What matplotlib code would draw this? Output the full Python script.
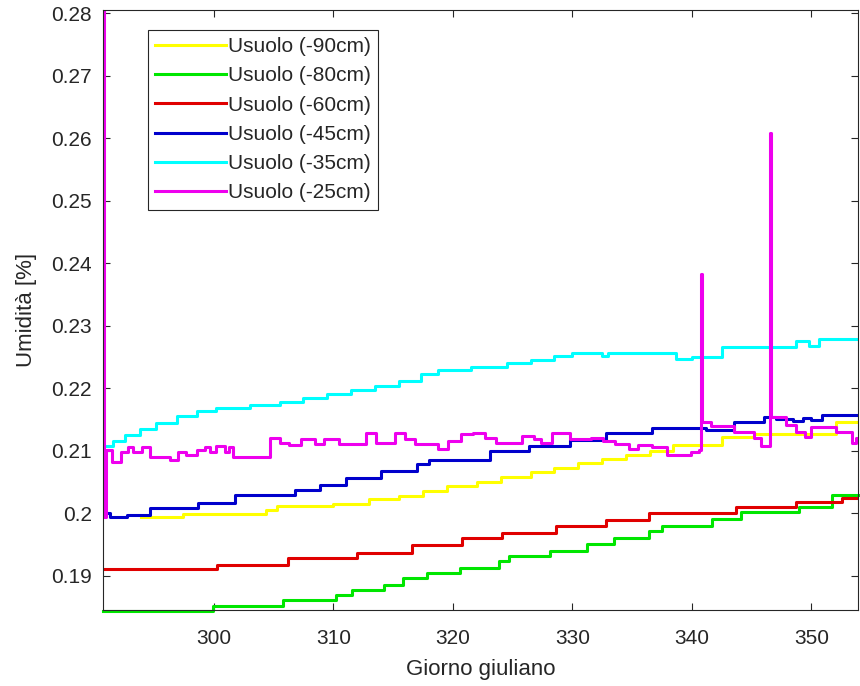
import matplotlib
matplotlib.use('Agg')
import matplotlib.pyplot as plt
from matplotlib.ticker import FuncFormatter

plt.rcParams['font.family'] = ['Liberation Sans', 'DejaVu Sans']

#--series (giorno giuliano, umidita) - step breakpoints
x90 = [293.9, 297.4, 304.4, 305.3, 310.0, 313.0, 315.5, 317.5, 319.5, 322.0, 324.0,
       326.5, 328.5, 330.5, 332.5, 334.5, 336.5, 338.4, 342.5, 345.2, 352.1, 353.9]
y90 = [0.1994, 0.1998, 0.2005, 0.2011, 0.2015, 0.2022, 0.2028, 0.2035, 0.2043, 0.2050, 0.2058,
       0.2066, 0.2073, 0.2080, 0.2087, 0.2093, 0.2100, 0.2109, 0.2122, 0.2127, 0.2146, 0.2146]

x80 = [290.73, 299.9, 305.8, 310.2, 311.6, 314.2, 315.8, 317.8, 320.6, 323.9, 324.7,
       328.1, 331.2, 333.5, 336.4, 337.5, 341.7, 344.1, 349.0, 351.7, 353.9]
y80 = [0.1844, 0.1851, 0.1861, 0.1869, 0.1877, 0.1885, 0.1896, 0.1904, 0.1912, 0.1924, 0.1931,
       0.1940, 0.1951, 0.1961, 0.1971, 0.1980, 0.1990, 0.2002, 0.2010, 0.2029, 0.2029]

x60 = [290.7, 300.3, 306.2, 312.0, 316.6, 320.8, 324.1, 328.6, 332.8, 336.4, 343.7, 348.7, 352.6, 353.9]
y60 = [0.1910, 0.1917, 0.1928, 0.1936, 0.1949, 0.1960, 0.1968, 0.1979, 0.1989, 0.2000, 0.2010, 0.2018, 0.2025, 0.2025]

x45 = [290.7, 291.3, 292.7, 294.7, 298.7, 301.8, 306.8, 308.9, 311.1, 314.0, 317.0, 318.0,
       323.1, 326.4, 329.8, 332.8, 336.7, 341.2, 343.5, 346.0, 347.0, 348.5, 349.3, 350.0, 350.9, 353.9]
y45 = [0.2000, 0.1994, 0.1997, 0.2008, 0.2016, 0.2029, 0.2037, 0.2045, 0.2056, 0.2067, 0.2078, 0.2085,
       0.2099, 0.2107, 0.2117, 0.2128, 0.2136, 0.2133, 0.2146, 0.2154, 0.2150, 0.2148, 0.2153, 0.2149, 0.2157, 0.2157]

x35 = [290.9, 291.6, 292.6, 293.8, 295.2, 296.9, 298.6, 300.2, 303.0, 305.5, 307.5, 309.5,
       311.5, 313.5, 315.5, 317.3, 318.8, 321.5, 324.5, 326.5, 328.5, 330.0, 332.5, 333.0,
       338.7, 340.0, 342.5, 348.7, 349.8, 350.6, 353.9]
y35 = [0.2108, 0.2116, 0.2125, 0.2134, 0.2144, 0.2155, 0.2163, 0.2168, 0.2173, 0.2178, 0.2184, 0.2191,
       0.2197, 0.2204, 0.2211, 0.2222, 0.2229, 0.2234, 0.2240, 0.2245, 0.2252, 0.2256, 0.2251, 0.2256,
       0.2247, 0.2250, 0.2266, 0.2275, 0.2267, 0.2278, 0.2278]

x25 = [290.70, 290.82, 290.95, 291.5, 292.2, 292.8, 293.2, 294.0, 294.7, 296.3, 297.0, 297.7,
       298.6, 299.3, 299.7, 300.2, 300.9, 301.3, 301.6, 304.7, 305.5, 306.3, 307.3, 308.5,
       309.2, 310.5, 312.7, 313.6, 315.2, 316.0, 316.8, 318.8, 319.6, 320.7, 321.7, 322.7,
       323.6, 325.8, 326.8, 327.4, 328.3, 329.8, 331.6, 332.6, 333.6, 334.7, 335.5, 336.7,
       337.9, 339.9, 340.6, 340.75, 340.85, 341.6, 343.5, 345.2, 345.8, 346.55, 346.65, 347.9,
       348.7, 349.5, 350.0, 352.1, 353.4, 353.7, 353.9]
y25 = [0.3000, 0.1994, 0.2101, 0.2082, 0.2098, 0.2106, 0.2098, 0.2106, 0.2090, 0.2085, 0.2098, 0.2093,
       0.2101, 0.2106, 0.2098, 0.2108, 0.2098, 0.2106, 0.2090, 0.2120, 0.2112, 0.2109, 0.2118, 0.2110,
       0.2118, 0.2110, 0.2128, 0.2112, 0.2128, 0.2118, 0.2110, 0.2102, 0.2116, 0.2126, 0.2129, 0.2121,
       0.2113, 0.2124, 0.2118, 0.2113, 0.2129, 0.2118, 0.2121, 0.2116, 0.2110, 0.2102, 0.2109, 0.2106,
       0.2093, 0.2098, 0.2101, 0.2382, 0.2146, 0.2139, 0.2130, 0.2120, 0.2107, 0.2608, 0.2154, 0.2141,
       0.2130, 0.2122, 0.2138, 0.2130, 0.2112, 0.2120, 0.2120]

labels = ['Usuolo (-90cm)', 'Usuolo (-80cm)', 'Usuolo (-60cm)',
          'Usuolo (-45cm)', 'Usuolo (-35cm)', 'Usuolo (-25cm)']
colors = ['#ffff00', '#00e600', '#e00000', '#0000cc', '#00ffff', '#ee00ee']
series = [(x90, y90), (x80, y80), (x60, y60), (x45, y45), (x35, y35), (x25, y25)]


def plot():
    fig = plt.figure(figsize=(8.6, 6.86), dpi=100)
    ax = fig.add_axes([103/860., 76/686., 755/860., 600/686.])

    for (xs, ys), c, lab in zip(series, colors, labels):
        l, = ax.plot(xs, ys, color=c, lw=2.2, drawstyle='steps-post', label=lab)
        if lab == 'Usuolo (-80cm)':
            l.set_clip_on(False)   # sits on the bottom spine

    ax.set_xlim(290.73, 353.9)
    ax.set_ylim(0.1845, 0.2805)
    ax.set_xticks([300, 310, 320, 330, 340, 350])
    ax.set_yticks([0.19, 0.20, 0.21, 0.22, 0.23, 0.24, 0.25, 0.26, 0.27, 0.28])
    ax.yaxis.set_major_formatter(FuncFormatter(lambda v, p: '%g' % round(v, 2)))

    for s in ax.spines.values():
        s.set_color('#262626')
        s.set_linewidth(0.8)
    ax.tick_params(axis='both', which='both', top=True, right=True, direction='in',
                   length=5, width=0.8, colors='#262626', labelsize=15)
    ax.tick_params(axis='x', pad=14)
    ax.tick_params(axis='y', pad=8)

    ax.set_xlabel('Giorno giuliano', size=16, color='#262626')
    ax.set_ylabel('Umidità [%]', size=16, color='#262626')
    ax.xaxis.set_label_coords(0.5, -0.082)
    ax.yaxis.set_label_coords(-0.088, 0.5)

    leg = ax.legend(loc='upper left', bbox_to_anchor=(0.0597, 0.9667), borderaxespad=0,
                    fontsize=15, handlelength=3.37, handletextpad=0.1, labelspacing=0.49,
                    borderpad=0.35, fancybox=False, framealpha=1, edgecolor='#262626')
    leg.get_frame().set_linewidth(0.8)
    for t in leg.get_texts():
        t.set_color('#262626')

    filename = 'out.png'
    fig.savefig(filename, dpi=100)
    print('Saving figure to %s' % filename)


if __name__ == "__main__":
    plot()
